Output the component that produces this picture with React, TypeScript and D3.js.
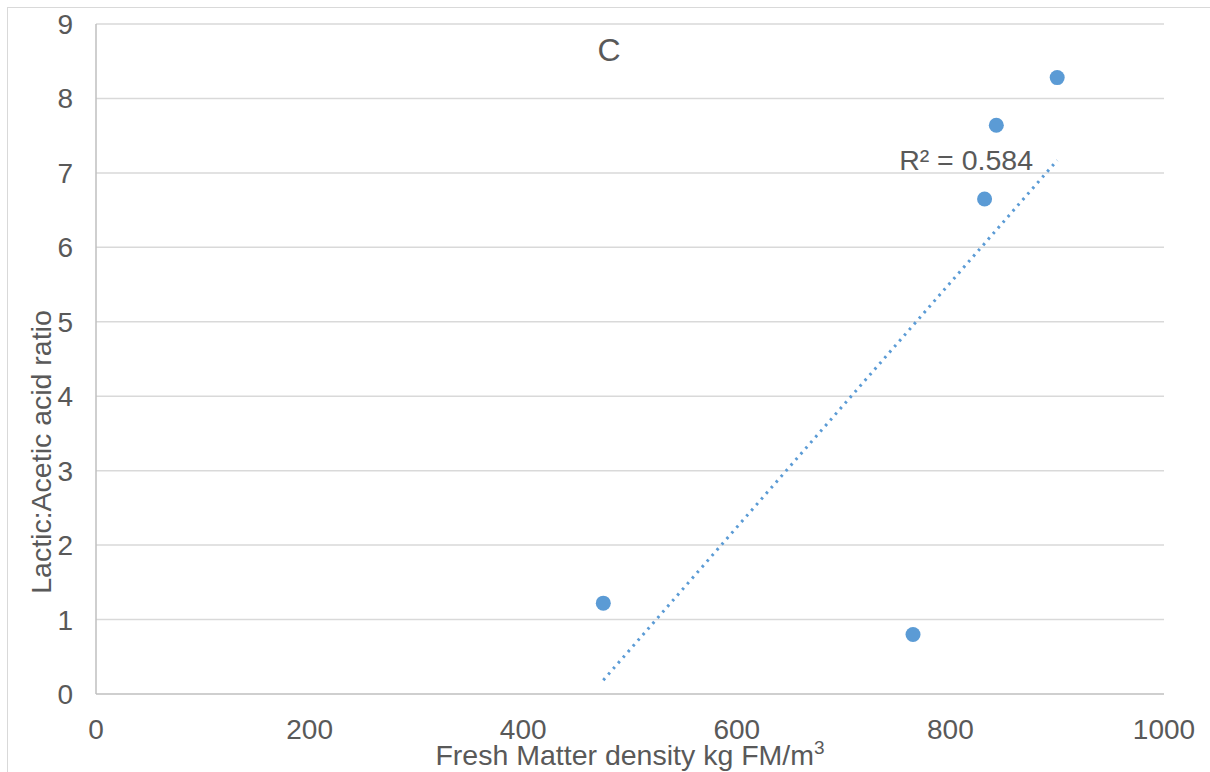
import React from "react";
import * as d3 from "d3";

const densityFM: number[] = [475, 765, 832, 843, 900];
const lacticAceticRatio: number[] = [1.22, 0.8, 6.65, 7.64, 8.28];
const xTicks: number[] = [0, 200, 400, 600, 800, 1000];
const yTicks: number[] = [0, 1, 2, 3, 4, 5, 6, 7, 8, 9];
const r2Label = "R² = 0.584";
const panelLabel = "C";

const W = 1210;
const H = 772;
const FONT = "'Liberation Sans', Arial, sans-serif";
const TXT = "#595959";
const BLUE = "#5B9BD5";

export default function App() {
  const x = d3.scaleLinear().domain([0, 1000]).range([96, 1164]);
  const y = d3.scaleLinear().domain([0, 9]).range([694, 24]);

  // linear least-squares trendline
  const mx = d3.mean(densityFM)!;
  const my = d3.mean(lacticAceticRatio)!;
  const sxy = d3.sum(densityFM.map((v, i) => (v - mx) * (lacticAceticRatio[i] - my)));
  const sxx = d3.sum(densityFM.map((v) => (v - mx) ** 2));
  const slope = sxy / sxx;
  const icpt = my - slope * mx;
  const x0 = d3.min(densityFM)!;
  const x1 = d3.max(densityFM)!;
  const line = d3
    .line<number>()
    .x((d) => x(d))
    .y((d) => y(icpt + slope * d));

  return (
    <svg
      width={W}
      height={H}
      style={{ position: "absolute", left: 0, top: 0, background: "#fff" }}
    >
      <rect x={7.5} y={7.5} width={W + 10} height={H + 10} fill="#fff" stroke="#d9d9d9" strokeWidth={1} />
      {yTicks.map((t) => (
        <line
          key={"g" + t}
          x1={x(0)}
          x2={x(1000)}
          y1={y(t)}
          y2={y(t)}
          stroke={t === 0 ? "#bfbfbf" : "#d9d9d9"}
          strokeWidth={1.5}
        />
      ))}
      <line x1={x(0)} x2={x(0)} y1={y(9)} y2={y(0)} stroke="#bfbfbf" strokeWidth={1.5} />
      {yTicks.map((t) => (
        <text
          key={"yt" + t}
          x={73}
          y={y(t) + 10}
          textAnchor="end"
          fontFamily={FONT}
          fontSize={28}
          fill={TXT}
        >
          {t}
        </text>
      ))}
      {xTicks.map((t) => (
        <text
          key={"xt" + t}
          x={x(t)}
          y={739}
          textAnchor="middle"
          fontFamily={FONT}
          fontSize={28}
          fill={TXT}
        >
          {t}
        </text>
      ))}
      <text x={630} y={765} textAnchor="middle" fontFamily={FONT} fontSize={28.5} fill={TXT}>
        Fresh Matter density kg FM/m
        <tspan dy={-11} fontSize={19}>3</tspan>
      </text>
      <text
        transform={`translate(51,452) rotate(-90)`}
        textAnchor="middle"
        fontFamily={FONT}
        fontSize={28.5}
        fill={TXT}
      >
        Lactic:Acetic acid ratio
      </text>
      <text x={609} y={61} textAnchor="middle" fontFamily={FONT} fontSize={32} fill={TXT}>
        {panelLabel}
      </text>
      <path
        d={line([x0, x1]) || ""}
        fill="none"
        stroke={BLUE}
        strokeWidth={3}
        strokeDasharray="2.5,5"
      />
      {densityFM.map((v, i) => (
        <circle key={"p" + i} cx={x(v)} cy={y(lacticAceticRatio[i])} r={7.5} fill={BLUE} />
      ))}
      <text x={1033} y={170} textAnchor="end" fontFamily={FONT} fontSize={28.5} fill={TXT}>
        {r2Label}
      </text>
    </svg>
  );
}
